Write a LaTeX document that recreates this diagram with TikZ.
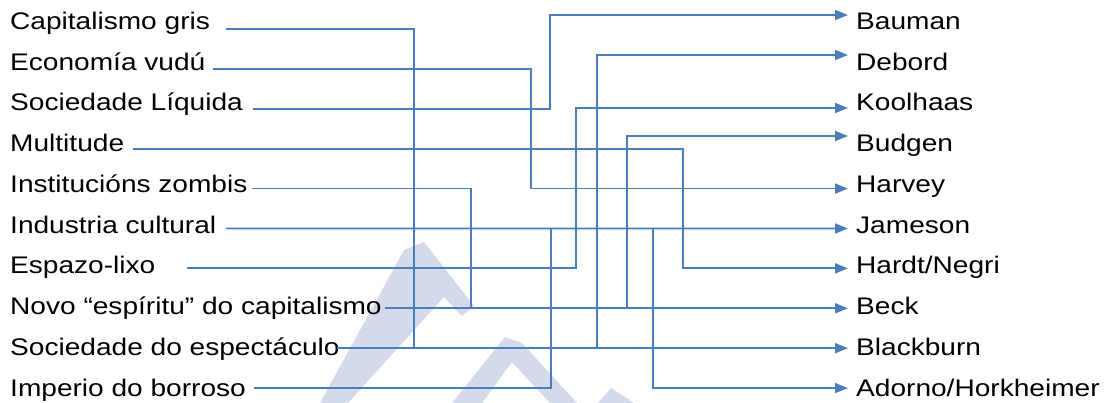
\documentclass[tikz,border=0pt]{standalone}
\usepackage{fontspec}
\setmainfont{Liberation Sans}[FakeStretch=1.17]
\usepackage{tikz}
\usetikzlibrary{arrows.meta}

\definecolor{linkblue}{RGB}{74,126,187}
\definecolor{wmark}{RGB}{213,218,234}

\begin{document}
\begin{tikzpicture}[x=1pt, y=-1pt, font=\fontsize{24}{28}\selectfont,
  lbl/.style={anchor=base west, inner sep=0pt},
  link/.style={linkblue, line width=1.8pt},
  arr/.style={link, -{Triangle[length=13pt, width=10pt]}}]
  \useasboundingbox (0,0) rectangle (1112,403);
  % faint watermark behind the links
  \fill[wmark] (404,250) -- (424,242) -- (474,306) -- (462,316) -- (444,297) -- (348,403) -- (320,403) -- cycle;
  \fill[wmark] (452,403) -- (505,337) -- (522,343) -- (577,403) -- (550,403) -- (512,362) -- (482,403) -- cycle;
  \fill[wmark] (598,403) -- (611,388) -- (634,403) -- cycle;
  % concepts (left)
  \foreach \i/\t/\sx in {1/Capitalismo gris/226, 2/Economía vudú/213, 3/Sociedade Líquida/253,
      4/Multitude/133, 5/Institucións zombis/252, 6/Industria cultural/226, 7/Espazo-lixo/187,
      8/Novo “espíritu” do capitalismo/385, 9/Sociedade do espectáculo/337, 10/Imperio do borroso/254}{
    \node[lbl] (l\i) at (10,{29.5+40.75*(\i-1)}) {\t};
    \coordinate (a\i) at (\sx,{29+39.9*(\i-1)});
  }
  % authors (right)
  \foreach \j/\t/\ty in {1/Bauman/15, 2/Debord/55, 3/Koolhaas/108, 4/Budgen/136, 5/Harvey/188.6,
      6/Jameson/228.5, 7/{Hardt/Negri}/268.4, 8/Beck/308.3, 9/Blackburn/348.2, 10/{Adorno/Horkheimer}/388.1}{
    \node[lbl] (r\j) at (856,{29.5+40.75*(\j-1)}) {\t};
    \coordinate (t\j) at (848,\ty);
  }
  % links concept -> author, turning at column x
  \foreach \s/\x/\e in {1/414/9, 2/531/5, 3/550/1, 4/683/7, 5/471/8, 7/576/3, 8/627/4, 9/597/2}
    \draw[arr] (a\s) -| (\x,0 |- t\e) -- (t\e);
  \draw[arr] (a6) -- (t6);
  \draw[arr] (a6 -| 653,0) |- (t10);
  \draw[link] (a10) -| (551,0 |- a6);
\end{tikzpicture}
\end{document}
